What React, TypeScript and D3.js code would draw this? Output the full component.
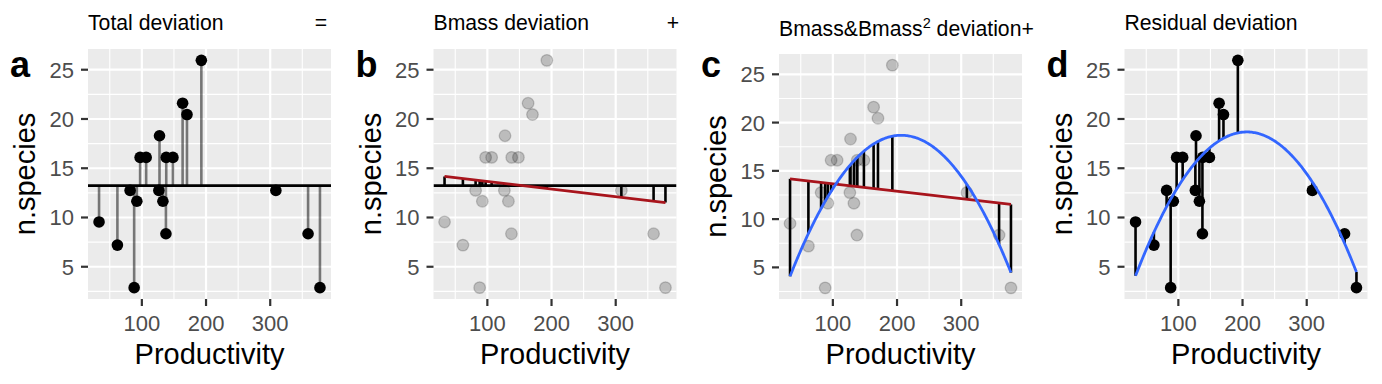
import React from "react";
import * as d3 from "d3";

// ---- data ----
const productivity = [33.3, 61.9, 81.7, 88, 92.2, 97.3, 106.7, 127.5, 126.5, 132.8, 138, 137.5, 148.4, 163.5, 170.3, 192.7, 308.8, 359, 377.5];
const nSpecies = [9.55, 7.2, 12.75, 2.88, 11.65, 16.1, 16.1, 18.3, 12.75, 11.65, 16.1, 8.35, 16.1, 21.6, 20.45, 25.95, 12.75, 8.35, 2.88];
const xTicks = [100, 200, 300];
const xMinor = [50, 150, 250, 350];
const yTicks = [5, 10, 15, 20, 25];
const yMinor = [2.5, 7.5, 12.5, 17.5, 22.5];
const panelLetters = ["a", "b", "c", "d"];

type Mode = "total" | "bmass" | "quad" | "resid";
const modes: Mode[] = ["total", "bmass", "quad", "resid"];

// ---- fits ----
const n = productivity.length;
const meanY = d3.mean(nSpecies)!;
const meanX = d3.mean(productivity)!;
const sxx = d3.sum(productivity, (x) => (x - meanX) ** 2);
const sxy = d3.sum(productivity, (x, i) => (x - meanX) * (nSpecies[i] - meanY));
const slope = sxy / sxx;
const lin = (x: number) => meanY + slope * (x - meanX);

function solve3(A: number[][], b: number[]) {
  const M = A.map((r, i) => [...r, b[i]]);
  for (let c = 0; c < 3; c++) {
    let p = c;
    for (let r = c + 1; r < 3; r++) if (Math.abs(M[r][c]) > Math.abs(M[p][c])) p = r;
    [M[c], M[p]] = [M[p], M[c]];
    for (let r = 0; r < 3; r++) {
      if (r === c) continue;
      const f = M[r][c] / M[c][c];
      for (let k = c; k < 4; k++) M[r][k] -= f * M[c][k];
    }
  }
  return [M[0][3] / M[0][0], M[1][3] / M[1][1], M[2][3] / M[2][2]];
}
const cx = productivity.map((x) => x - meanX);
const S = (p: number) => d3.sum(cx, (v) => v ** p);
const T = (p: number) => d3.sum(cx, (v, i) => v ** p * nSpecies[i]);
const [q0, q1, q2] = solve3(
  [
    [n, S(1), S(2)],
    [S(1), S(2), S(3)],
    [S(2), S(3), S(4)],
  ],
  [T(0), T(1), T(2)]
);
const quad = (x: number) => {
  const u = x - meanX;
  return q0 + q1 * u + q2 * u * u;
};

const FONT = "'Liberation Sans', Arial, Helvetica, sans-serif";
const RED = "#a8141c";
const BLUE = "#3366FF";
const TITLE_SIZE = 21.2;

const xExt = d3.extent(productivity) as [number, number];
const yExt = d3.extent(nSpecies) as [number, number];
const xPad = (xExt[1] - xExt[0]) * 0.05;
const yPad = (yExt[1] - yExt[0]) * 0.05;

function Panel({ idx }: { idx: number }) {
  const mode = modes[idx];
  const off = idx * 345.5;
  const left = off + 88;
  const right = off + 331;
  const top = mode === "quad" ? 54 : 49;
  const bottom = 299;
  const x = d3.scaleLinear().domain([xExt[0] - xPad, xExt[1] + xPad]).range([left, right]);
  const y = d3.scaleLinear().domain([yExt[0] - yPad, yExt[1] + yPad]).range([bottom, top]);
  const curveXs = d3.range(0, 201).map((i) => xExt[0] + ((xExt[1] - xExt[0]) * i) / 200);
  const quadPath = d3.line<number>().x((v) => x(v)).y((v) => y(quad(v)))(curveXs) || "";
  const idxs = d3.range(n);

  const grayPts = idxs.map((i) => (
    <circle key={"g" + i} cx={x(productivity[i])} cy={y(nSpecies[i])} r={5.8}
      fill="#000" fillOpacity={0.2} stroke="#000" strokeOpacity={0.18} strokeWidth={1.3} />
  ));
  const blackPts = idxs.map((i) => (
    <circle key={"b" + i} cx={x(productivity[i])} cy={y(nSpecies[i])} r={5.8} fill="#000" />
  ));
  const redLine = (
    <line x1={x(xExt[0])} x2={x(xExt[1])} y1={y(lin(xExt[0]))} y2={y(lin(xExt[1]))} stroke={RED} strokeWidth={2.8} />
  );
  const meanLine = <line x1={left} x2={right} y1={y(meanY)} y2={y(meanY)} stroke="#000" strokeWidth={2.8} />;
  const blueCurve = <path d={quadPath} fill="none" stroke={BLUE} strokeWidth={2.8} />;
  const seg = (key: string, xv: number, a: number, b: number, color: string, op = 1) => (
    <line key={key} x1={x(xv)} x2={x(xv)} y1={y(a)} y2={y(b)} stroke={color} strokeOpacity={op} strokeWidth={2.6} />
  );

  let content: React.ReactNode = null;
  if (mode === "total") {
    content = (
      <g>
        {idxs.map((i) => seg("s" + i, productivity[i], meanY, nSpecies[i], "#000", 0.5))}
        {meanLine}
        {blackPts}
      </g>
    );
  } else if (mode === "bmass") {
    content = (
      <g>
        {grayPts}
        {idxs.map((i) => seg("s" + i, productivity[i], meanY, lin(productivity[i]), "#000"))}
        {meanLine}
        {redLine}
      </g>
    );
  } else if (mode === "quad") {
    content = (
      <g>
        {grayPts}
        {idxs.map((i) => seg("s" + i, productivity[i], lin(productivity[i]), quad(productivity[i]), "#000"))}
        {redLine}
        {blueCurve}
      </g>
    );
  } else {
    content = (
      <g>
        {idxs.map((i) => seg("s" + i, productivity[i], quad(productivity[i]), nSpecies[i], "#000"))}
        {blackPts}
        {blueCurve}
      </g>
    );
  }

  const clipId = "clip" + idx;
  const cy = (top + bottom) / 2;
  const cxm = (left + right) / 2;

  let title: React.ReactNode;
  if (mode === "total") {
    title = (
      <g>
        <text x={left} y={29.5} fontSize={TITLE_SIZE} fontFamily={FONT}>Total deviation</text>
        <text x={off + 321} y={29.5} fontSize={TITLE_SIZE} fontFamily={FONT} textAnchor="middle">=</text>
      </g>
    );
  } else if (mode === "bmass") {
    title = (
      <g>
        <text x={left} y={29.5} fontSize={TITLE_SIZE} fontFamily={FONT}>Bmass deviation</text>
        <text x={off + 327.5} y={29.5} fontSize={TITLE_SIZE} fontFamily={FONT} textAnchor="middle">+</text>
      </g>
    );
  } else if (mode === "quad") {
    title = (
      <text x={left} y={36} fontSize={TITLE_SIZE} fontFamily={FONT}>
        Bmass&amp;Bmass<tspan fontSize={14.5} dy={-8}>2</tspan><tspan dy={8}> deviation+</tspan>
      </text>
    );
  } else {
    title = <text x={left} y={29.5} fontSize={TITLE_SIZE} fontFamily={FONT}>Residual deviation</text>;
  }

  return (
    <g>
      <defs>
        <clipPath id={clipId}>
          <rect x={left} y={top} width={right - left} height={bottom - top} />
        </clipPath>
      </defs>
      <rect x={left} y={top} width={right - left} height={bottom - top} fill="#EBEBEB" />
      {xMinor.map((v) => (
        <line key={"xm" + v} x1={x(v)} x2={x(v)} y1={top} y2={bottom} stroke="#fff" strokeWidth={1.1} />
      ))}
      {yMinor.map((v) => (
        <line key={"ym" + v} x1={left} x2={right} y1={y(v)} y2={y(v)} stroke="#fff" strokeWidth={1.1} />
      ))}
      {xTicks.map((v) => (
        <line key={"xM" + v} x1={x(v)} x2={x(v)} y1={top} y2={bottom} stroke="#fff" strokeWidth={2.2} />
      ))}
      {yTicks.map((v) => (
        <line key={"yM" + v} x1={left} x2={right} y1={y(v)} y2={y(v)} stroke="#fff" strokeWidth={2.2} />
      ))}
      <g clipPath={`url(#${clipId})`}>{content}</g>
      {xTicks.map((v) => (
        <g key={"xt" + v}>
          <line x1={x(v)} x2={x(v)} y1={bottom} y2={bottom + 7} stroke="#333" strokeWidth={2.2} />
          <text x={x(v)} y={bottom + 32} fontSize={22} fill="#4D4D4D" fontFamily={FONT} textAnchor="middle">{v}</text>
        </g>
      ))}
      {yTicks.map((v) => (
        <g key={"yt" + v}>
          <line x1={left - 7} x2={left} y1={y(v)} y2={y(v)} stroke="#333" strokeWidth={2.2} />
          <text x={left - 14} y={y(v) + 8} fontSize={22} fill="#4D4D4D" fontFamily={FONT} textAnchor="end">{v}</text>
        </g>
      ))}
      <text x={cxm} y={364} fontSize={29} fontFamily={FONT} textAnchor="middle">Productivity</text>
      <text transform={`translate(${off + 35},${cy}) rotate(-90)`} fontSize={29} fontFamily={FONT} textAnchor="middle">n.species</text>
      <text x={off + 10} y={76.5} fontSize={36} fontWeight="bold" fontFamily={FONT}>{panelLetters[idx]}</text>
      {title}
    </g>
  );
}

export default function App() {
  return (
    <svg width={1382} height={384} style={{ position: "absolute", left: 0, top: 0, background: "#fff" }}>
      <rect x={0} y={0} width={1382} height={384} fill="#fff" />
      {[0, 1, 2, 3].map((i) => (
        <Panel key={i} idx={i} />
      ))}
    </svg>
  );
}
